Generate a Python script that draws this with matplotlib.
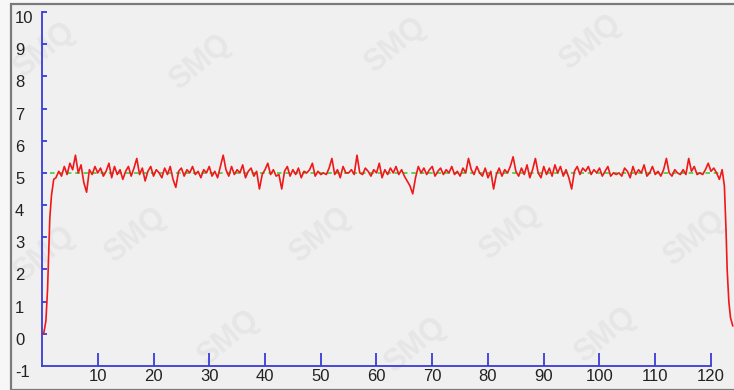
"""
Signal trace recreated from a legacy instrument screenshot:
noisy response around a 5.0 set point with ramp-up and drop-off.
"""

import matplotlib

matplotlib.use("Agg")
import matplotlib.pyplot as plt
import matplotlib.transforms as mtransforms
from matplotlib.patches import Rectangle


# ramp-up at start
rise_x = [0.3, 0.7, 1.0, 1.2, 1.4, 1.7, 2.1]
rise_y = [0.0, 0.4, 1.4, 2.5, 3.6, 4.3, 4.8]

# steady part, x = 2.5 .. 122.0 every 0.5
body_start = 2.5
body_step = 0.5
body_y = [
    4.85, 5.05, 4.90, 5.20, 4.95, 5.30, 5.10, 5.55, 5.00, 5.25, 4.70, 4.40, 5.10, 4.95, 5.20, 5.00, 5.15, 4.90, 5.05, 5.30,
    4.85, 5.20, 4.95, 5.10, 4.80, 5.05, 5.20, 4.90, 5.15, 5.45, 4.95, 5.15, 4.75, 5.05, 5.20, 4.90, 5.10, 5.00, 4.85, 5.15,
    4.95, 5.20, 4.80, 4.55, 5.05, 5.15, 4.90, 5.10, 5.00, 5.20, 4.95, 5.05, 4.85, 5.10, 5.00, 5.20, 4.90, 5.05, 4.85, 5.20,
    5.55, 5.10, 4.90, 5.20, 4.95, 5.10, 5.00, 5.25, 4.85, 5.05, 5.15, 4.90, 5.05, 4.50, 4.95, 5.10, 5.30, 4.95, 5.10, 4.90,
    4.95, 4.50, 5.05, 5.20, 4.90, 5.10, 4.95, 5.15, 4.85, 5.05, 5.00, 5.10, 5.30, 4.90, 5.05, 4.95, 5.00, 4.95, 5.15, 5.45,
    4.95, 5.10, 4.85, 5.20, 5.00, 5.00, 5.10, 4.95, 5.55, 5.00, 4.95, 5.15, 5.05, 4.90, 5.10, 5.00, 5.30, 4.85, 5.10, 4.95,
    5.15, 5.00, 5.20, 4.95, 5.10, 4.90, 4.75, 4.60, 4.35, 4.85, 5.20, 5.00, 5.15, 4.95, 5.10, 5.20, 4.90, 5.05, 5.15, 4.95,
    5.10, 5.00, 5.20, 4.95, 5.05, 4.90, 5.15, 5.00, 5.45, 5.10, 4.95, 5.20, 5.00, 4.90, 5.15, 4.85, 5.05, 4.50, 4.95, 5.15,
    4.90, 5.10, 5.00, 5.20, 5.50, 5.05, 4.90, 5.15, 4.95, 5.25, 4.85, 5.10, 5.45, 5.00, 4.85, 5.20, 4.95, 5.15, 4.90, 5.25,
    5.00, 5.20, 4.90, 5.10, 4.85, 4.50, 5.05, 5.20, 4.95, 5.15, 5.05, 5.20, 4.95, 5.10, 5.00, 5.15, 4.90, 5.05, 5.20, 4.90,
    5.00, 4.95, 5.00, 4.90, 5.15, 5.05, 4.85, 5.20, 4.95, 5.10, 5.00, 5.25, 4.90, 5.00, 5.20, 4.95, 5.05, 4.90, 5.10, 5.45,
    5.00, 4.90, 5.10, 5.00, 4.95, 5.10, 4.95, 5.45, 5.05, 5.20, 4.95, 5.00, 4.95, 5.10, 5.30, 5.05, 5.15, 5.00, 4.80, 5.10,
]

# drop-off at end
tail_x = [122.4, 122.7, 122.9, 123.2, 123.5, 123.9]
tail_y = [4.6, 3.2, 2.0, 1.0, 0.5, 0.25]

setpoint = 5.0
setpoint_x = [1.5, 122.0]

x_ticks = [10, 20, 30, 40, 50, 60, 70, 80, 90, 100, 110, 120]
y_ticks = [-1, 0, 1, 2, 3, 4, 5, 6, 7, 8, 9, 10]

# watermark centres in pixels (x from left, y from top)
watermark_px = [
    (200, 62), (395, 45), (590, 42), (44, 50),
    (135, 235), (320, 235), (510, 232), (694, 238), (44, 254),
    (228, 338), (415, 345), (605, 335),
]

W, H = 734, 390
AXIS_BLUE = "#3b3bd8"

body_x = [body_start + i * body_step for i in range(len(body_y))]
trace_x = rise_x + body_x + tail_x
trace_y = rise_y + body_y + tail_y

fig = plt.figure(figsize=(W / 100, H / 100), dpi=100)
fig.patch.set_facecolor("#f7f7f7")
fig.patches.append(
    Rectangle((11 / W, 0), 1, 1 - 4 / H, transform=fig.transFigure,
              facecolor="#f0f0f0", edgecolor="#7a7a7a", lw=1.6, zorder=-2)
)

for px, py in watermark_px:
    fig.text(px / W, 1 - py / H, "SMQ", rotation=40, ha="center", va="center",
             fontsize=22, fontweight="bold", color="#e6e6e6",
             family="Liberation Sans", zorder=-1)

# x=0 at px 42, x=120 at px 711; y=-1 at px 366, y=10 at px 12
x_scale = (711 - 42) / 120
ax = fig.add_axes([42 / W, (H - 366) / H, (W - 42) / W, (366 - 12) / H])
ax.set_xlim(0, (W - 42) / x_scale)
ax.set_ylim(-1, 10)
ax.patch.set_alpha(0)

ax.plot(setpoint_x, [setpoint, setpoint], color="#2ecc2e", lw=1.1, ls=(0, (3, 2.5)), zorder=2)
ax.plot(trace_x, trace_y, color="#f01818", lw=1.2, zorder=3, clip_on=False)

for side in ("top", "right"):
    ax.spines[side].set_visible(False)
ax.spines["left"].set_color(AXIS_BLUE)
ax.spines["bottom"].set_color(AXIS_BLUE)
ax.spines["left"].set_linewidth(1.3)
ax.spines["bottom"].set_linewidth(1.3)
ax.spines["bottom"].set_bounds(0, 120)
ax.spines["left"].set_bounds(-1, 10)

ax.set_xticks(x_ticks)
ax.set_xticklabels([str(t) for t in x_ticks])
ax.set_yticks(y_ticks)
ax.set_yticklabels([str(t) for t in y_ticks])
ax.tick_params(axis="x", direction="in", length=9.5, width=1.3, color=AXIS_BLUE,
               pad=2, labelsize=12, labelcolor="#222222")
ax.tick_params(axis="y", direction="in", length=3.5, width=1.3, color=AXIS_BLUE,
               pad=19.5, labelsize=12, labelcolor="#222222")
ax.yaxis.get_major_ticks()[0].tick1line.set_visible(False)

shift = mtransforms.ScaledTranslation(0, -0.05, fig.dpi_scale_trans)
for lab in ax.get_yticklabels():
    lab.set_horizontalalignment("left")
    lab.set_transform(lab.get_transform() + shift)
for lab in ax.get_xticklabels() + ax.get_yticklabels():
    lab.set_family("Liberation Sans")

fig.savefig("out.png", dpi=100, facecolor=fig.get_facecolor())
